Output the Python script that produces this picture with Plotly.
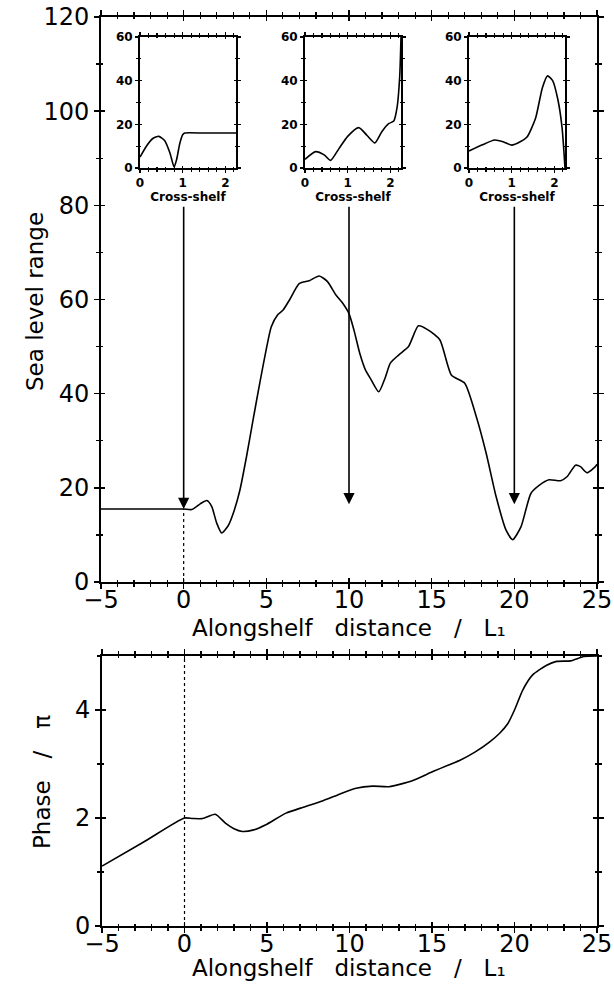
import plotly.graph_objects as go

# ---------------- data ----------------
along_x = [-5, -3, -1, 0, 0.5, 1.0, 1.4, 1.7, 2.0, 2.3, 2.7, 3.0, 3.4, 3.8, 4.2, 4.6,
           5.0, 5.3, 5.7, 6.0, 6.4, 7.0, 7.6, 8.2, 8.7, 9.2, 9.6, 10.0, 10.3, 10.65,
           11.0, 11.3, 11.8, 12.2, 12.5, 13.0, 13.6, 14.2, 14.8, 15.5, 16.2, 17.0,
           17.7, 18.3, 18.9, 19.5, 19.9, 20.4, 21.0, 21.5, 22.1, 22.8, 23.2, 23.7,
           24.0, 24.4, 24.9, 25.0]
range_y = [15.5, 15.5, 15.5, 15.5, 15.4, 16.6, 17.3, 16.0, 12.5, 10.4, 12.0, 14.6,
           19.5, 26.6, 34.5, 42.2, 49.5, 54.2, 56.8, 57.7, 59.9, 63.4, 64.0, 65.0,
           63.8, 61.0, 59.3, 57.0, 53.5, 48.6, 45.0, 43.2, 40.4, 43.5, 46.5, 48.2,
           50.0, 54.4, 53.5, 51.4, 43.9, 42.2, 35.1, 27.3, 18.1, 11.0, 9.0, 11.7,
           18.8, 20.5, 21.7, 21.5, 22.4, 24.8, 24.5, 23.2, 24.5, 25.0]

phase_x = [-5, -2.5, 0, 0.5, 1.1, 1.86, 2.5, 3.0, 3.5, 4.2, 4.9, 6.15, 7.2, 8.4,
           9.4, 10.4, 11.4, 12.4, 13.8, 15.05, 16.0, 16.7, 17.6, 18.5, 19.1, 19.6,
           20.0, 20.5, 21.1, 21.95, 22.55, 23.4, 24.2, 25.0]
phase_y = [1.11, 1.55, 2.0, 1.99, 1.99, 2.07, 1.9, 1.8, 1.75, 1.78, 1.87, 2.09,
           2.2, 2.32, 2.44, 2.55, 2.59, 2.58, 2.69, 2.86, 2.98, 3.07, 3.22, 3.41,
           3.57, 3.75, 4.0, 4.37, 4.65, 4.83, 4.9, 4.91, 4.99, 5.0]

inset1_x = [0, 0.15, 0.3, 0.44, 0.58, 0.7, 0.8, 0.86, 0.93, 1.0, 1.05, 1.5, 2.25]
inset1_y = [5, 10, 13.5, 14.5, 12.5, 7, 0.5, 4, 11, 15.2, 16, 16, 16]

inset2_x = [0, 0.25, 0.45, 0.6, 0.8, 1.0, 1.26, 1.45, 1.64, 1.8, 1.96, 2.08,
            2.16, 2.22, 2.25]
inset2_y = [4, 7.5, 6, 3.5, 9, 14.5, 18.5, 15, 11.5, 16.6, 20.3, 21.5, 28, 42, 60]

inset3_x = [0, 0.3, 0.6, 0.8, 1.0, 1.2, 1.36, 1.56, 1.72, 1.84, 1.96, 2.08,
            2.18, 2.25]
inset3_y = [7.8, 10.5, 12.8, 12, 10.5, 12, 14.2, 22.8, 36.8, 42.2, 40, 31.6,
            18.7, 0]

arrow_x = [0, 10, 20]
arrow_tip = [15.5, 16.5, 16.5]
arrow_tail = 80

main_xticks = [-5, 0, 5, 10, 15, 20, 25]
main_yticks = [0, 20, 40, 60, 80, 100, 120]
phase_yticks = [0, 2, 4]
inset_xticks = [0, 1, 2]
inset_yticks = [0, 20, 40, 60]

# ---------------- layout helpers ----------------
FONT = "DejaVu Sans"
SP = "\u00a0\u00a0"
W, H = 614, 984


def px(v):
    return v / W


def py(v):
    return 1 - v / H


def axis(domain, rng, tickvals, minor_dtick, anchor, fsize, ticks="outside",
         labels=True, overlay=None, ticklen=5, mlen=3, weight="normal",
         standoff=0):
    d = dict(range=rng, tickmode="array", tickvals=tickvals, ticks=ticks,
             ticklen=ticklen, tickwidth=1.5, tickcolor="black", showline=True,
             linecolor="black", linewidth=2, mirror="allticks", showgrid=False,
             zeroline=False, anchor=anchor, showticklabels=labels,
             automargin=False, ticklabeloverflow="allow",
             ticklabelstandoff=standoff,
             tickfont=dict(family=FONT, size=fsize, color="black", weight=weight),
             minor=dict(ticks=ticks, ticklen=mlen, tickwidth=1.2,
                        tickcolor="black", dtick=minor_dtick, tick0=0,
                        showgrid=False))
    if overlay:
        d["overlaying"] = overlay
    else:
        d["domain"] = domain
    return d


fig = go.Figure()

line = dict(color="black", width=1.6, shape="spline", smoothing=0.6)
fig.add_trace(go.Scatter(x=along_x, y=range_y, mode="lines", line=line,
                         xaxis="x", yaxis="y", hoverinfo="skip"))
fig.add_trace(go.Scatter(x=phase_x, y=phase_y, mode="lines", line=line,
                         xaxis="x2", yaxis="y2", hoverinfo="skip"))
fig.add_trace(go.Scatter(x=inset1_x, y=inset1_y, mode="lines", line=line,
                         xaxis="x3", yaxis="y3", hoverinfo="skip"))
fig.add_trace(go.Scatter(x=inset2_x, y=inset2_y, mode="lines", line=line,
                         xaxis="x4", yaxis="y4", hoverinfo="skip"))
fig.add_trace(go.Scatter(x=inset3_x, y=inset3_y, mode="lines", line=line,
                         xaxis="x5", yaxis="y5", hoverinfo="skip"))
# empty traces for overlay (inside-tick) axes
for i in range(6, 11):
    fig.add_trace(go.Scatter(x=[], y=[], xaxis=f"x{i}", yaxis=f"y{i}",
                             hoverinfo="skip"))

main_xd = [px(101), px(597)]
main_yd = [py(582), py(17)]
bot_xd = [px(102), px(597)]
bot_yd = [py(926), py(656)]
ins_yd = [py(168), py(37)]
ins_xd = [[px(140), px(236)], [px(305), px(401)], [px(469), px(565)]]

lay = dict(width=W, height=H, margin=dict(l=0, r=0, t=0, b=0),
           paper_bgcolor="white", plot_bgcolor="rgba(0,0,0,0)",
           showlegend=False, font=dict(family=FONT, color="black"))

title_font = dict(family=FONT, size=23, color="black")
xtitle = ("Alongshelf" + SP + "\u00a0distance" + SP + "\u00a0/" + SP +
          "\u00a0L\u2081")

lay["xaxis"] = axis(main_xd, [-5, 25], main_xticks, 1, "y", 24, standoff=-10)
lay["yaxis"] = axis(main_yd, [0, 120], main_yticks, 10, "x", 24)
lay["xaxis2"] = axis(bot_xd, [-5, 25], main_xticks, 1, "y2", 24, standoff=-10)
lay["yaxis2"] = axis(bot_yd, [0, 5], phase_yticks, 1, "x2", 24)

for k in range(3):
    n = k + 3
    lay[f"xaxis{n}"] = axis(ins_xd[k], [0, 2.25], inset_xticks, 0.2, f"y{n}", 12,
                            ticklen=3, mlen=2, weight="bold")
    lay[f"xaxis{n}"]["title"] = dict(text="Cross-shelf",
                                     font=dict(family=FONT, size=12, color="black",
                                               weight="bold"),
                                     standoff=0)
    lay[f"yaxis{n}"] = axis(ins_yd, [0, 60], inset_yticks, 10, f"x{n}", 12,
                            ticklen=3, mlen=2, weight="bold")

# overlay axes carrying the inside half of each tick (crossing ticks)
base = [("x", "y", [-5, 25], [0, 120], main_xticks, main_yticks, 1, 10, 5, 3),
        ("x2", "y2", [-5, 25], [0, 5], main_xticks, phase_yticks, 1, 1, 5, 3),
        ("x3", "y3", [0, 2.25], [0, 60], inset_xticks, inset_yticks, 0.2, 10, 3, 2),
        ("x4", "y4", [0, 2.25], [0, 60], inset_xticks, inset_yticks, 0.2, 10, 3, 2),
        ("x5", "y5", [0, 2.25], [0, 60], inset_xticks, inset_yticks, 0.2, 10, 3, 2)]
for i, (bx, by, xr, yr, xt, yt, xm, ym, tl, ml) in enumerate(base):
    n = i + 6
    lay[f"xaxis{n}"] = axis(None, xr, xt, xm, f"y{n}", 10, ticks="inside",
                            labels=False, overlay=bx, ticklen=tl - 1, mlen=ml - 1)
    lay[f"yaxis{n}"] = axis(None, yr, yt, ym, f"x{n}", 10, ticks="inside",
                            labels=False, overlay=by, ticklen=tl - 1, mlen=ml - 1)

fig.update_layout(**lay)

# axis titles
fig.add_annotation(text=xtitle, xref="paper", yref="paper", x=px(349),
                   y=py(628), xanchor="center", yanchor="middle",
                   showarrow=False, font=title_font)
fig.add_annotation(text=xtitle, xref="paper", yref="paper", x=px(349),
                   y=py(968), xanchor="center", yanchor="middle",
                   showarrow=False, font=title_font)
fig.add_annotation(text="Sea level range", xref="paper", yref="paper",
                   x=px(35), y=py(302), xanchor="center",
                   yanchor="middle", textangle=-90, showarrow=False,
                   font=title_font)
fig.add_annotation(text="Phase" + SP + "\u00a0/" + SP + "\u00a0\u03c0",
                   xref="paper", yref="paper", x=px(42), y=py(782),
                   xanchor="center", yanchor="middle", textangle=-90,
                   showarrow=False, font=title_font)

# arrows from the insets down to the along-shelf profile
for xa, tip in zip(arrow_x, arrow_tip):
    fig.add_annotation(x=xa, y=tip, ax=xa, ay=arrow_tail, xref="x", yref="y",
                       axref="x", ayref="y", text="", showarrow=True,
                       arrowhead=2, arrowsize=1.4, arrowwidth=1.6,
                       arrowcolor="black", standoff=0)

# dashed reference lines at x = 0
fig.add_shape(type="line", xref="x", yref="y", x0=0, x1=0, y0=0, y1=range_y[3],
              line=dict(color="black", width=1.2, dash="3px,3px"))
fig.add_shape(type="line", xref="x2", yref="y2", x0=0, x1=0, y0=0, y1=5,
              line=dict(color="black", width=1.2, dash="3px,3px"))

fig.write_html("out.html",
               config={"displayModeBar": False, "staticPlot": True},
               post_script="document.body.style.margin='0';"
                           "document.body.style.overflow='hidden';")
